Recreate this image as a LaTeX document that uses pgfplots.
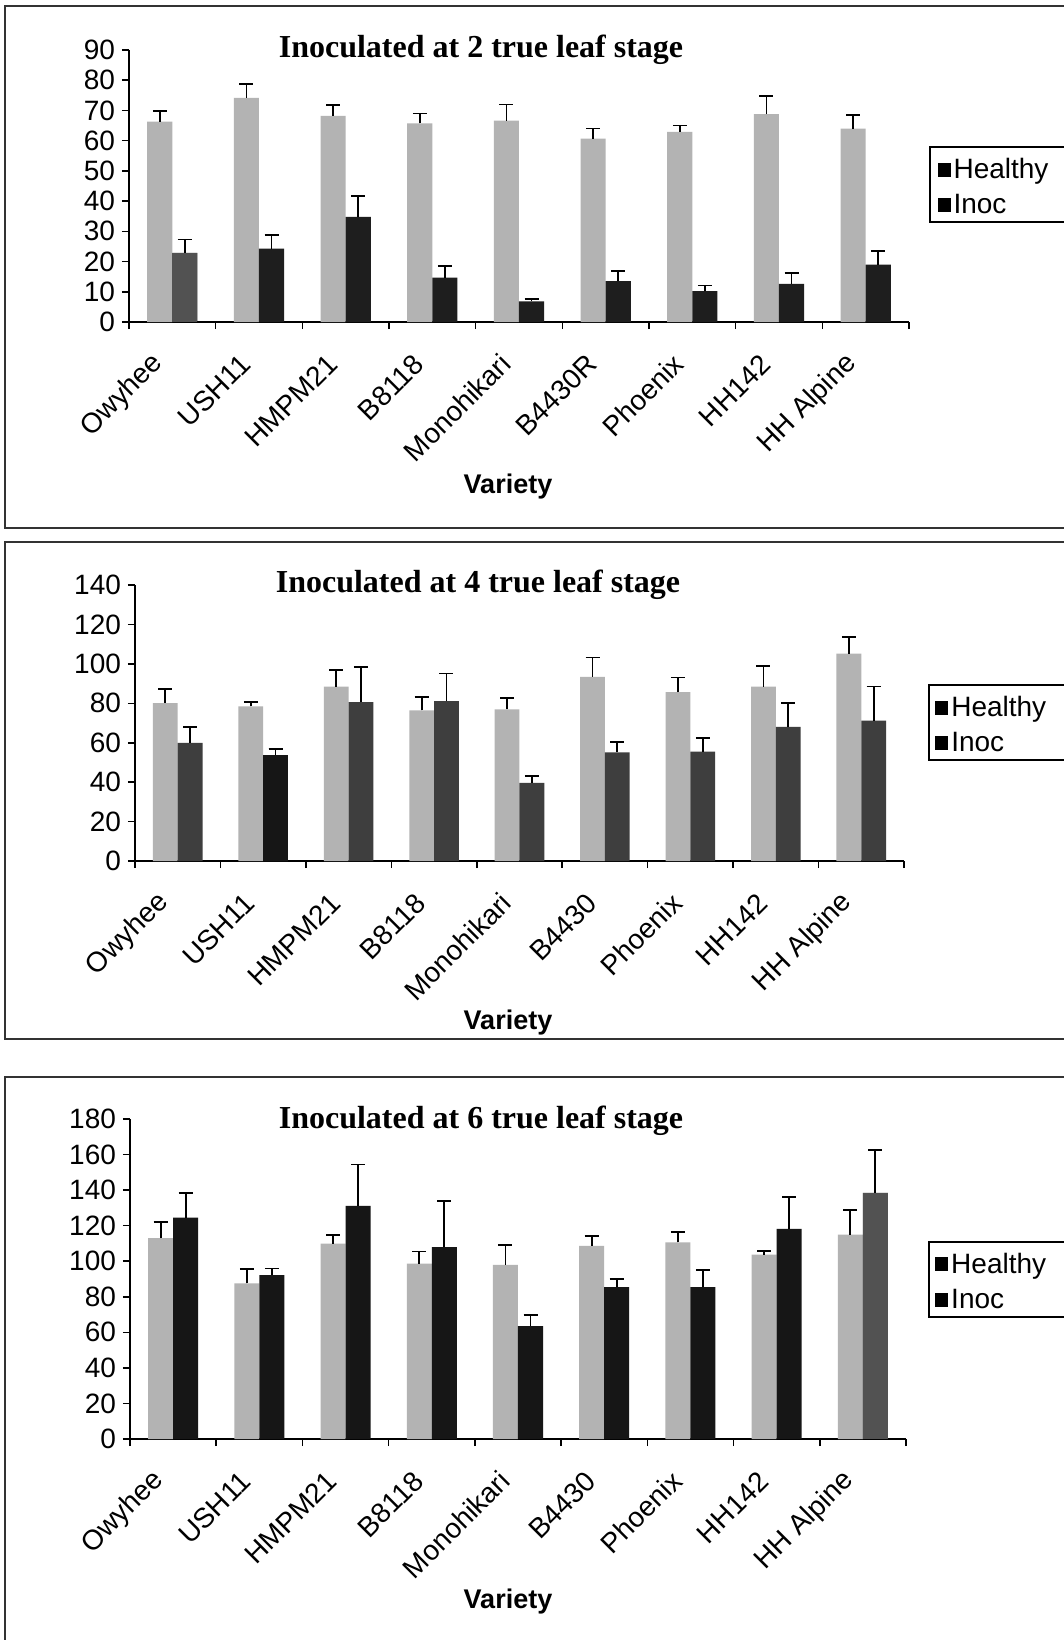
\documentclass[border=0pt]{standalone}
\usepackage{pgfplots}
\pgfplotsset{compat=1.18}
\usepackage{pgfplotstable}
\usepackage{fontspec}
\setmainfont{Liberation Sans}
\newfontfamily\titlefont{Liberation Serif}
\definecolor{hgray}{HTML}{B3B3B3}
\definecolor{inocA}{HTML}{1E1E1E}
\definecolor{inocB}{HTML}{3E3E3E}
\definecolor{inocC}{HTML}{161616}
\definecolor{inocG}{HTML}{525252}
\definecolor{framecol}{HTML}{333333}

% x  healthy  err  inoc  err
\pgfplotstableread{
x h he i ie
0 66.3 3.5 22.9 4.4
1 74.2 4.5 24.3 4.4
2 68.2 3.5 34.8 6.8
3 65.7 3.3 14.7 3.9
4 66.6 5.4 6.8 0.9
5 60.7 3.3 13.5 3.3
6 62.9 2.1 10.2 1.9
7 68.8 6.0 12.6 3.7
8 64.0 4.4 19.0 4.4
}\dataA
\pgfplotstableread{
x h he i ie
0 80.1 7.1 59.9 7.9
1 78.4 2.1 53.6 3.4
2 88.5 8.5 80.6 17.9
3 76.4 6.6 81.1 14.0
4 76.9 5.7 39.6 3.7
5 93.4 9.8 55.1 5.3
6 85.7 7.4 55.5 6.9
7 88.5 10.3 68.1 12.0
8 105.2 8.6 71.2 17.3
}\dataB
\pgfplotstableread{
x h he i ie
0 113.0 9.0 124.6 13.7
1 87.6 7.9 92.2 3.7
2 109.9 4.9 131.2 23.2
3 98.6 6.9 108.0 25.8
4 98.0 11.3 63.5 6.2
5 108.7 5.3 85.4 4.7
6 110.6 5.9 85.4 9.6
7 103.7 2.2 118.2 18.1
8 115.0 13.9 138.5 24.1
}\dataC

\pgfplotsset{
  panel/.style={
    scale only axis,
    anchor=south west,
    ybar, bar width=0.29,
    xmin=-0.5, xmax=8.5, ymin=0,
    clip=false,
    axis x line*=bottom, axis y line*=left,
    axis line style={black, line width=0.8pt, -},
    tick align=outside,
    xtick={0,...,8},
    every major x tick/.style={draw=none},
    minor xtick={-0.5,0.5,...,8.5},
    every minor x tick/.style={black, line width=0.8pt},
    every major y tick/.style={black, line width=0.8pt},
    major tick length=3.5pt, minor tick length=3.5pt,
    /pgf/number format/assume math mode=true,
    yticklabel style={font=\fontsize{14}{14}\selectfont},
    xticklabel style={font=\fontsize{14}{14}\selectfont, rotate=45, anchor=east, xshift=-12pt, yshift=-6pt},
    legend cell align=left,
    legend style={draw=none, fill=none, font=\fontsize{14}{14}\selectfont,
      inner xsep=2pt, inner ysep=2pt, row sep=3.5pt, anchor=north west,
      nodes={inner sep=1.5pt}},
    legend image code/.code={\fill[black] (0pt,-3.5pt) rectangle (6.5pt,3.5pt);},
  },
  ebar/.style={
    error bars/.cd, y dir=plus, y explicit,
    error bar style={black, line width=0.9pt},
    error mark options={black, line width=0.9pt, mark size=3.5pt, rotate=90}},
  hbar/.style={draw=none, fill=hgray, bar shift=-0.145, ebar},
  ibar/.style={draw=none, fill=#1, bar shift=0.145, ebar},
}

\begin{document}
\begin{tikzpicture}
\useasboundingbox (0pt,0pt) rectangle (532pt,-820pt);
\fill[white] (0pt,0pt) rectangle (532pt,-820pt);
% panel frames
\draw[framecol, line width=0.9pt] (2.5pt,-3pt) rectangle (545pt,-264pt);
\draw[framecol, line width=0.9pt] (2.5pt,-271pt) rectangle (545pt,-519.5pt);
\draw[framecol, line width=0.9pt] (2.5pt,-538.5pt) rectangle (545pt,-830pt);
% legend boxes
\draw[black, line width=0.8pt] (465pt,-73.5pt) rectangle (545pt,-111pt);
\draw[black, line width=0.8pt] (464.5pt,-342.5pt) rectangle (545pt,-380pt);
\draw[black, line width=0.8pt] (464.5pt,-621pt) rectangle (545pt,-658.5pt);

% Panel 1
\begin{axis}[panel, at={(64.5pt,-161pt)}, width=390pt, height=136pt,
  ymax=90, ytick={0,10,...,90},
  xticklabels={Owyhee,USH11,HMPM21,B8118,Monohikari,B4430R,Phoenix,HH142,HH Alpine},
  legend style={at={(1.031,0.63)}}]
\addplot[hbar] table[x=x,y=h,y error=he]{\dataA};
\addlegendentry{Healthy}
\addplot[ibar=inocA] table[x=x,y=i,y error=ie]{\dataA};
\addlegendentry{Inoc}
\addplot[forget plot, ibar=inocG] coordinates {(0,22.9) +- (0,4.4)};
\end{axis}
\node[font=\titlefont\bfseries\fontsize{16}{16}\selectfont, anchor=base] at (240.5pt,-28.5pt) {Inoculated at 2 true leaf stage};
\node[font=\bfseries\fontsize{13.5}{13.5}\selectfont] at (254pt,-243.5pt) {Variety};

% Panel 2
\begin{axis}[panel, at={(67.5pt,-430.5pt)}, width=384.5pt, height=138pt,
  ymax=140, ytick={0,20,...,140},
  xticklabels={Owyhee,USH11,HMPM21,B8118,Monohikari,B4430,Phoenix,HH142,HH Alpine},
  legend style={at={(1.035,0.625)}}]
\addplot[hbar] table[x=x,y=h,y error=he]{\dataB};
\addlegendentry{Healthy}
\addplot[ibar=inocB] table[x=x,y=i,y error=ie]{\dataB};
\addlegendentry{Inoc}
\addplot[forget plot, ibar=inocC] coordinates {(1,53.6) +- (0,3.4)};
\end{axis}
\node[font=\titlefont\bfseries\fontsize{16}{16}\selectfont, anchor=base] at (239pt,-296pt) {Inoculated at 4 true leaf stage};
\node[font=\bfseries\fontsize{13.5}{13.5}\selectfont] at (254pt,-511.5pt) {Variety};

% Panel 3
\begin{axis}[panel, at={(65pt,-719.5pt)}, width=388pt, height=160pt,
  ymax=180, ytick={0,20,...,180},
  xticklabels={Owyhee,USH11,HMPM21,B8118,Monohikari,B4430,Phoenix,HH142,HH Alpine},
  legend style={at={(1.032,0.605)}}]
\addplot[hbar] table[x=x,y=h,y error=he]{\dataC};
\addlegendentry{Healthy}
\addplot[ibar=inocC] table[x=x,y=i,y error=ie]{\dataC};
\addlegendentry{Inoc}
\addplot[forget plot, ibar=inocG] coordinates {(8,138.5) +- (0,24.1)};
\end{axis}
\node[font=\titlefont\bfseries\fontsize{16}{16}\selectfont, anchor=base] at (240.5pt,-564pt) {Inoculated at 6 true leaf stage};
\node[font=\bfseries\fontsize{13.5}{13.5}\selectfont] at (254pt,-800.5pt) {Variety};
\end{tikzpicture}
\end{document}
